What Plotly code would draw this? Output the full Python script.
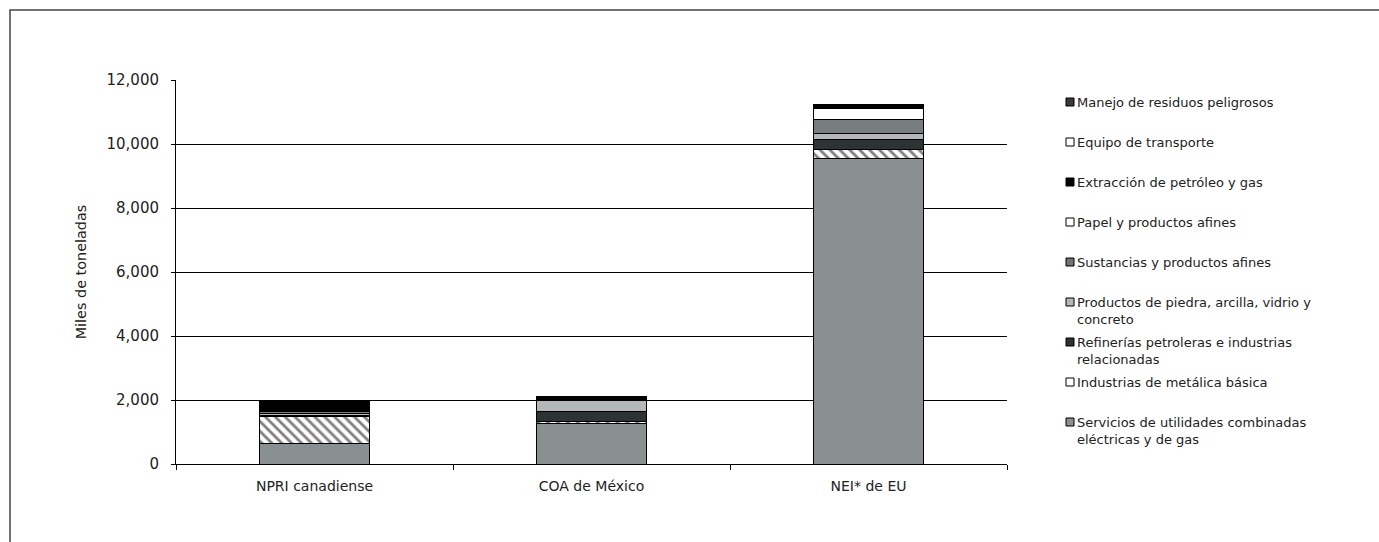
import plotly.graph_objects as go

# Emissions by industrial sector, thousands of tonnes
categories = ["NPRI canadiense", "COA de México", "NEI* de EU"]

servicios = [630, 1280, 9550]
metalica = [840, 60, 280]
refinerias = [60, 310, 310]
piedra = [40, 340, 190]
sustancias = [60, 40, 440]
papel = [50, 0, 340]
extraccion = [260, 60, 90]
equipo = [10, 0, 20]
manejo = [10, 10, 20]

series_names = [
    "Servicios de utilidades combinadas<br>eléctricas y de gas",
    "Industrias de metálica básica",
    "Refinerías petroleras e industrias<br>relacionadas",
    "Productos de piedra, arcilla, vidrio y<br>concreto",
    "Sustancias y productos afines",
    "Papel y productos afines",
    "Extracción de petróleo y gas",
    "Equipo de transporte",
    "Manejo de residuos peligrosos",
]
series_values = [servicios, metalica, refinerias, piedra, sustancias,
                 papel, extraccion, equipo, manejo]

# fill colour, pattern shape, legend swatch colour
styles = [
    ("#8a8f91", "", "#8a8f91"),
    ("#ffffff", "\\", "#ffffff"),
    ("#2d3235", "", "#2d3235"),
    ("#b4b8ba", "", "#b4b8ba"),
    ("#787d80", "", "#6e7376"),
    ("#ffffff", "", "#ffffff"),
    ("#000000", "", "#000000"),
    ("#ffffff", "", "#ffffff"),
    ("#ffffff", "x", "#3a3a3a"),
]

W, H = 1379, 542
L, R, T, B = 176, 372, 80, 78
PW, PH = W - L - R, H - T - B
FONT = "DejaVu Sans"

fig = go.Figure()
for name, vals, (col, shp, _) in zip(series_names, series_values, styles):
    pattern = dict(shape=shp, fgcolor="#000000", bgcolor="#ffffff",
                   size=7, solidity=0.4) if shp else dict(shape="")
    fig.add_trace(go.Bar(
        x=categories, y=vals, name=name,
        marker=dict(color=col, line=dict(color="#000000", width=1),
                    pattern=pattern),
        showlegend=False,
    ))

# Legend drawn at the right: swatch squares and labels, top series first
def px_x(x):
    return (x - L) / PW

def px_y(y):
    return (H - B - y) / PH

shapes = []
annotations = []
first_y, step = 102, 40
for i, idx in enumerate(reversed(range(len(series_names)))):
    cy = first_y + step * i
    swatch = styles[idx][2]
    shapes.append(dict(type="rect", xref="paper", yref="paper",
                       x0=px_x(1066), x1=px_x(1074),
                       y0=px_y(cy + 4), y1=px_y(cy - 4),
                       fillcolor=swatch, line=dict(color="#000000", width=1)))
    annotations.append(dict(xref="paper", yref="paper",
                            x=px_x(1075), y=px_y(cy - 9.5),
                            xanchor="left", yanchor="top", align="left",
                            showarrow=False, text=series_names[idx],
                            font=dict(family=FONT, size=13, color="#222222")))

# Outer frame around the whole chart
shapes.append(dict(type="rect", xref="paper", yref="paper",
                   x0=px_x(10), x1=px_x(W + 50),
                   y0=px_y(H + 50), y1=px_y(10),
                   line=dict(color="#444444", width=1.5), fillcolor="rgba(0,0,0,0)"))

fig.update_layout(
    barmode="stack",
    bargap=0.603,
    width=W, height=H,
    margin=dict(l=L, r=R, t=T, b=B, pad=0),
    paper_bgcolor="#ffffff",
    plot_bgcolor="#ffffff",
    font=dict(family=FONT, size=14, color="#222222"),
    shapes=shapes,
    annotations=annotations,
    xaxis=dict(
        showline=True, linecolor="#000000", linewidth=1,
        ticks="outside", tickson="boundaries", ticklen=5, tickcolor="#000000",
        tickfont=dict(family=FONT, size=14),
        ticklabelstandoff=9,
        showgrid=False,
    ),
    yaxis=dict(
        range=[0, 12000], tick0=0, dtick=2000, tickformat=",",
        showline=True, linecolor="#000000", linewidth=1,
        ticks="outside", ticklen=4, tickcolor="#000000",
        showgrid=True, gridcolor="#000000", gridwidth=1,
        zeroline=False,
        tickfont=dict(family=FONT, size=15),
        ticklabelstandoff=9,
        title=dict(text="Miles de toneladas", font=dict(family=FONT, size=14.4),
                   standoff=16),
    ),
)

fig.write_html("out.html")
